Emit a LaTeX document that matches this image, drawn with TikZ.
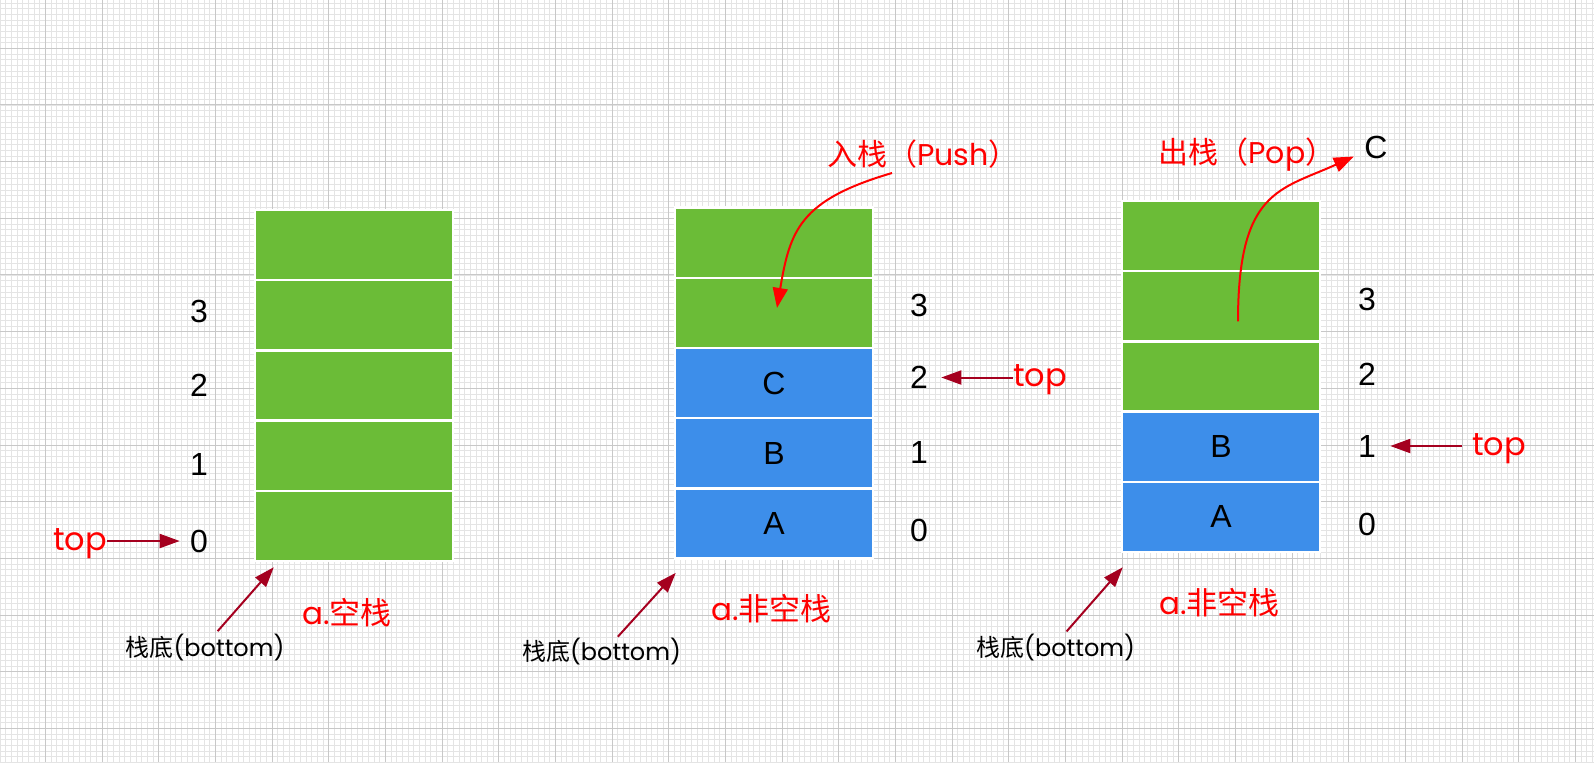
\documentclass[tikz,border=0pt]{standalone}
\usepackage{fontspec}
\setmainfont{Liberation Sans}
\newfontfamily\cjk{Noto Sans CJK SC}
\newfontfamily\geo{Poppins}
\usetikzlibrary{arrows.meta}

\definecolor{cellgreen}{HTML}{6BBC37}
\definecolor{cellblue}{HTML}{3D8EEA}
\definecolor{arrowred}{HTML}{A5001F}
\definecolor{labelred}{HTML}{FF0000}
\definecolor{gridminor}{HTML}{E4E4E4}
\definecolor{gridmajor}{HTML}{C8C8C8}

\tikzset{
  minorline/.style={draw=gridminor, line width=0.5pt},
  majorline/.style={draw=gridmajor, line width=0.5pt},
  emptycell/.style={draw=white, line width=1.2pt, fill=cellgreen, minimum width=99pt, minimum height=35.1pt, inner sep=0pt},
  fullcell/.style={emptycell, fill=cellblue, font=\fontsize{16}{19}\selectfont},
  numlabel/.style={inner sep=0pt, font=\fontsize{16}{19}\selectfont},
  toplabel/.style={inner sep=0pt, text=labelred, font=\geo\fontsize{16}{19}\selectfont},
  titlelabel/.style={inner sep=0pt, text=labelred, font=\fontsize{15.5}{18}\selectfont},
  baselabel/.style={inner sep=0pt, font=\fontsize{12}{14}\selectfont},
  darkarrow/.style={draw=arrowred, line width=1pt, -{Triangle[length=10pt,width=7pt]}},
  redarrow/.style={draw=labelred, line width=1pt, -{Triangle[length=10pt,width=7.5pt]}}
}

\begin{document}
\begin{tikzpicture}[x=0.5pt,y=-0.5pt]
\useasboundingbox (0,0) rectangle (1594,762);

% grid paper
\foreach \i in {0,...,281} \draw[minorline] (\i*5.667,0) -- (\i*5.667,762);
\foreach \j in {0,...,134} \draw[minorline] (0,3+\j*5.667) -- (1594,3+\j*5.667);
\foreach \i in {0,...,27} \draw[majorline] (45.33+\i*56.67,0) -- (45.33+\i*56.67,762);
\foreach \j in {0,...,12} \draw[majorline] (0,48.3+\j*56.67) -- (1594,48.3+\j*56.67);

% empty stack
\node[emptycell] (s1c0) at (354,525.9) {};
\node[emptycell] (s1c1) at (354,455.7) {};
\node[emptycell] (s1c2) at (354,385.5) {};
\node[emptycell] (s1c3) at (354,315.3) {};
\node[emptycell] (s1c4) at (354,245.1) {};

\node[numlabel] (s1n3) at (199,311.7) {3};
\node[numlabel] (s1n2) at (199,385) {2};
\node[numlabel] (s1n1) at (199,464) {1};
\node[numlabel] (s1n0) at (199,541) {0};

\node[toplabel] (s1top) at (80,544) {top};
\draw[darkarrow, shorten >=5pt] (s1top.east |- s1n0) -- (s1n0.west);

\node[baselabel] (s1base) at (205,648) {{\cjk 栈底}{\geo (bottom)}};
\coordinate (s1foot) at ([shift={(20,5)}]s1c0.south west);
\draw[darkarrow, shorten <=2pt] ([xshift=5pt]s1base.north) -- (s1foot);

\node[titlelabel] (s1title) at (347,613) {{\geo a.}{\cjk 空栈}};

% push
\node[fullcell] (s2c0) at (774,523.5) {A};
\node[fullcell] (s2c1) at (774,453.3) {B};
\node[fullcell] (s2c2) at (774,383.1) {C};
\node[emptycell] (s2c3) at (774,312.9) {};
\node[emptycell] (s2c4) at (774,242.7) {};

\node[numlabel] (s2n3) at (919,305.7) {3};
\node[numlabel] (s2n2) at (919,377.5) {2};
\node[numlabel] (s2n1) at (919,452) {1};
\node[numlabel] (s2n0) at (919,530.7) {0};

\node[toplabel] (s2top) at (1040,380) {top};
\draw[darkarrow, shorten >=6.5pt] (s2top.west |- s2n2) -- (s2n2.east);

\node[baselabel] (s2base) at (601.5,652) {{\cjk 栈底}{\geo (bottom)}};
\coordinate (s2foot) at ([shift={(2,13)}]s2c0.south west);
\draw[darkarrow, shorten <=1pt] ([xshift=7.5pt]s2base.north) -- (s2foot);

\node[titlelabel] (s2title) at (771.7,608.6) {{\geo a.}{\cjk 非空栈}};

\node[titlelabel, font=\fontsize{15}{18}\selectfont] (push) at (923,154) {{\cjk 入栈（}{\geo Push}{\cjk ）}};
\coordinate (pushfrom) at ([shift={(-31,19)}]push.center);
\coordinate (pushto) at ([shift={(3,-5)}]s2c3.center);
\draw[redarrow] (pushfrom) .. controls (800,200) and (790,230) .. (pushto);

% pop
\node[fullcell] (s3c0) at (1221,516.9) {A};
\node[fullcell] (s3c1) at (1221,446.7) {B};
\node[emptycell] (s3c2) at (1221,376.5) {};
\node[emptycell] (s3c3) at (1221,306.3) {};
\node[emptycell] (s3c4) at (1221,236.1) {};

\node[numlabel] (s3n3) at (1367,299) {3};
\node[numlabel] (s3n2) at (1367,374) {2};
\node[numlabel] (s3n1) at (1367,446) {1};
\node[numlabel] (s3n0) at (1367,524) {0};

\node[toplabel] (s3top) at (1499,448.5) {top};
\draw[darkarrow, shorten <=5pt, shorten >=7pt] (s3top.west |- s3n1) -- (s3n1.east);

\node[baselabel] (s3base) at (1055.6,647.5) {{\cjk 栈底}{\geo (bottom)}};
\coordinate (s3foot) at ([shift={(2,14)}]s3c0.south west);
\draw[darkarrow, shorten <=1.5pt] ([xshift=4.5pt]s3base.north) -- (s3foot);

\node[titlelabel] (s3title) at (1219.5,603) {{\geo a.}{\cjk 非空栈}};

\node[titlelabel, font=\fontsize{15}{18}\selectfont] (pop) at (1247,154.6) {{\cjk 出栈（}{\geo Pop}{\cjk ）}};
\node[numlabel] (popped) at (1375.8,147.5) {C};
\coordinate (popfrom) at ([shift={(17,15)}]s3c3.center);
\coordinate (popto) at ([shift={(-22,9)}]popped.center);
\draw[redarrow] (popfrom) .. controls (1238,190) and (1280,190) .. (popto);
\end{tikzpicture}
\end{document}
